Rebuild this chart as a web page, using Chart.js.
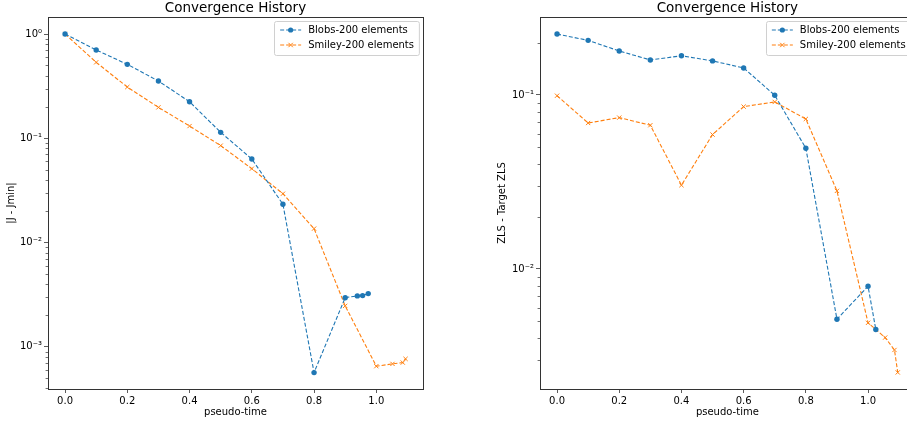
<!DOCTYPE html>
<html><head><meta charset="utf-8">
<script src="https://cdn.jsdelivr.net/npm/chart.js@4/dist/chart.umd.min.js"></script>
<style>
html,body{margin:0;padding:0;background:#fff;width:907px;height:424px;overflow:hidden;position:relative;}
#c1{position:absolute;left:0;top:0;}
#c2{position:absolute;left:450px;top:0;}
</style></head><body>
<canvas id="c1" width="450" height="424"></canvas>
<canvas id="c2" width="470" height="424"></canvas>
<script>
// ---- data ----
const seriesNames = ['Blobs-200 elements', 'Smiley-200 elements'];
const chartTitle = 'Convergence History';
const xAxisTitle = 'pseudo-time';
const leftYTitle = '|J - Jmin|';
const rightYTitle = 'ZLS - Target ZLS';
const xTickValues = [0, 0.2, 0.4, 0.6, 0.8, 1.0];

const leftBlobsX = [0, 0.1, 0.2, 0.3, 0.4, 0.5, 0.6, 0.7, 0.8, 0.9, 0.939, 0.956, 0.974];
const leftBlobsY = [1.0, 0.703, 0.512, 0.354, 0.224, 0.114, 0.0633, 0.0233, 5.66e-4, 2.96e-3, 3.08e-3, 3.1e-3, 3.24e-3];
const leftSmileyX = [0, 0.1, 0.2, 0.3, 0.4, 0.5, 0.6, 0.7, 0.8, 0.9, 1.0, 1.052, 1.085, 1.094];
const leftSmileyY = [1.0, 0.535, 0.31, 0.198, 0.131, 0.085, 0.0511, 0.0294, 0.0136, 2.47e-3, 6.52e-4, 6.86e-4, 7.06e-4, 7.66e-4];

const rightBlobsX = [0, 0.1, 0.2, 0.3, 0.4, 0.5, 0.6, 0.7, 0.8, 0.9, 1.0, 1.025];
const rightBlobsY = [0.224, 0.206, 0.179, 0.159, 0.168, 0.157, 0.143, 0.0996, 0.0494, 5.14e-3, 7.95e-3, 4.48e-3];
const rightSmileyX = [0, 0.1, 0.2, 0.3, 0.4, 0.5, 0.6, 0.7, 0.8, 0.9, 1.0, 1.055, 1.085, 1.0955];
const rightSmileyY = [0.099, 0.069, 0.0741, 0.067, 0.0303, 0.0592, 0.0857, 0.0912, 0.0728, 0.0281, 4.9e-3, 4.03e-3, 3.42e-3, 2.54e-3];

const leftYRange = [3.94e-4, 1.456];
const rightYRange = [2.04e-3, 0.2807];
const xRange = [-0.0548, 1.1500];

// ---- helpers ----
const FONT = '"DejaVu Sans", "Liberation Sans", sans-serif';
const BLUE = '#1f77b4', ORANGE = '#ff7f0e', SPINE = '#333';
const SUP = {'-':'\u207B','0':'\u2070','1':'\u00B9','2':'\u00B2','3':'\u00B3','4':'\u2074','5':'\u2075','6':'\u2076','7':'\u2077','8':'\u2078','9':'\u2079'};
function sup(n){ return String(n).split('').map(c=>SUP[c]).join(''); }
function isMajor(v){ const l = Math.log10(v); return Math.abs(l - Math.round(l)) < 1e-9; }
function pts(xs, ys){ return xs.map((x,i)=>({x, y: ys[i]})); }

function datasets(bx, by, sx, sy){
  return [
    {label: seriesNames[0], data: pts(bx, by), borderColor: BLUE, backgroundColor: BLUE,
     borderWidth: 1.1, borderDash: [4, 2], pointStyle: 'circle', pointRadius: 2.7,
     pointBorderWidth: 0, pointBackgroundColor: BLUE, showLine: true, tension: 0},
    {label: seriesNames[1], data: pts(sx, sy), borderColor: ORANGE, backgroundColor: ORANGE,
     borderWidth: 1.1, borderDash: [4, 2], pointStyle: 'crossRot', pointRadius: 3,
     pointBorderWidth: 1, pointBorderColor: ORANGE, showLine: true, tension: 0}
  ];
}

function mplPlugin(){
  return {
    id: 'mpl',
    afterDraw(chart){
      const ctx = chart.ctx, a = chart.chartArea, ys = chart.scales.y;
      ctx.save();
      // minor ticks
      ctx.strokeStyle = SPINE; ctx.lineWidth = 0.7;
      ys.ticks.forEach(t => {
        if (!isMajor(t.value)) {
          const py = Math.round(ys.getPixelForValue(t.value)) + 0.5;
          ctx.beginPath(); ctx.moveTo(a.left, py); ctx.lineTo(a.left - 2.4, py); ctx.stroke();
        }
      });
      // spines
      ctx.lineWidth = 1; ctx.strokeStyle = SPINE;
      ctx.strokeRect(Math.round(a.left) + 0.5, Math.round(a.top) + 0.5, Math.round(a.right - a.left), Math.round(a.bottom - a.top));
      // title
      ctx.fillStyle = '#000';
      ctx.font = '13.5px ' + FONT; ctx.textAlign = 'center'; ctx.textBaseline = 'middle';
      ctx.fillText(chartTitle, (a.left + a.right) / 2, 8.5);
      // legend
      ctx.font = '10px ' + FONT;
      const tw = Math.max(...chart.data.datasets.map(d => ctx.measureText(d.label).width));
      const bw = 34 + tw + 5, bh = 34;
      const bx = a.right - 4 - bw, by = a.top + 4;
      ctx.fillStyle = 'rgba(255,255,255,0.8)';
      ctx.strokeStyle = '#d0d0d0'; ctx.lineWidth = 1;
      ctx.beginPath(); ctx.roundRect(Math.round(bx) + 0.5, Math.round(by) + 0.5, bw, bh, 2); ctx.fill(); ctx.stroke();
      chart.data.datasets.forEach((d, i) => {
        const cy = by + 9 + i * 15;
        ctx.strokeStyle = d.borderColor; ctx.lineWidth = 1.1; ctx.setLineDash([4, 2]);
        ctx.beginPath(); ctx.moveTo(bx + 6, cy); ctx.lineTo(bx + 27, cy); ctx.stroke();
        ctx.setLineDash([]);
        const mx = bx + 16.5;
        if (d.pointStyle === 'circle') {
          ctx.fillStyle = d.borderColor; ctx.beginPath(); ctx.arc(mx, cy, 2.6, 0, Math.PI * 2); ctx.fill();
        } else {
          ctx.lineWidth = 1; const r = 2.2;
          ctx.beginPath(); ctx.moveTo(mx - r, cy - r); ctx.lineTo(mx + r, cy + r);
          ctx.moveTo(mx - r, cy + r); ctx.lineTo(mx + r, cy - r); ctx.stroke();
        }
        ctx.fillStyle = '#000'; ctx.textAlign = 'left'; ctx.textBaseline = 'middle';
        ctx.fillText(d.label, bx + 34, cy + 0.5);
      });
      ctx.restore();
    }
  };
}

function makeChart(id, ds, yRange, yTitle, yWidth, yTitlePad, padRight){
  return new Chart(document.getElementById(id), {
    type: 'line',
    data: {datasets: ds},
    plugins: [mplPlugin()],
    options: {
      responsive: false, animation: false, devicePixelRatio: 1,
      layout: {padding: {left: 0, top: 17, right: padRight, bottom: 0}},
      plugins: {legend: {display: false}, title: {display: false}, tooltip: {enabled: false}},
      scales: {
        x: {
          type: 'linear', min: xRange[0], max: xRange[1],
          afterBuildTicks(s){ s.ticks = xTickValues.map(v => ({value: v})); },
          afterFit(s){ s.height = 35; },
          ticks: {autoSkip: false, maxRotation: 0, padding: 2, color: '#000', font: {family: FONT, size: 10},
                  callback: v => Number(v).toFixed(1)},
          grid: {drawOnChartArea: false, drawTicks: true, tickLength: 4, tickColor: SPINE, tickWidth: 0.8},
          border: {display: false},
          title: {display: true, text: xAxisTitle, color: '#000', font: {family: FONT, size: 10}, padding: {top: 0, bottom: 6}}
        },
        y: {
          type: 'logarithmic', min: yRange[0], max: yRange[1],
          afterBuildTicks(s){
            const t = [];
            for (let e = -5; e <= 1; e++) for (let m = 1; m < 10; m++) {
              const v = m * Math.pow(10, e);
              if (v >= s.min && v <= s.max) t.push({value: v});
            }
            s.ticks = t;
          },
          afterFit(s){ s.width = yWidth; },
          ticks: {autoSkip: false, padding: 2, color: '#000', font: {family: FONT, size: 10},
                  callback: v => isMajor(v) ? '10' + sup(Math.round(Math.log10(v))) : ''},
          grid: {drawOnChartArea: false, drawTicks: true, tickLength: 4, tickWidth: 0.8,
                 tickColor: c => (c.tick && isMajor(c.tick.value)) ? SPINE : 'rgba(0,0,0,0)'},
          border: {display: false},
          title: {display: true, text: yTitle, color: '#000', font: {family: FONT, size: 10}, padding: {top: yTitlePad, bottom: 0}}
        }
      }
    }
  });
}

makeChart('c1', datasets(leftBlobsX, leftBlobsY, leftSmileyX, leftSmileyY), leftYRange, leftYTitle, 48, 5, 27);
makeChart('c2', datasets(rightBlobsX, rightBlobsY, rightSmileyX, rightSmileyY), rightYRange, rightYTitle, 90, 46, 5.3);
</script>
</body></html>
